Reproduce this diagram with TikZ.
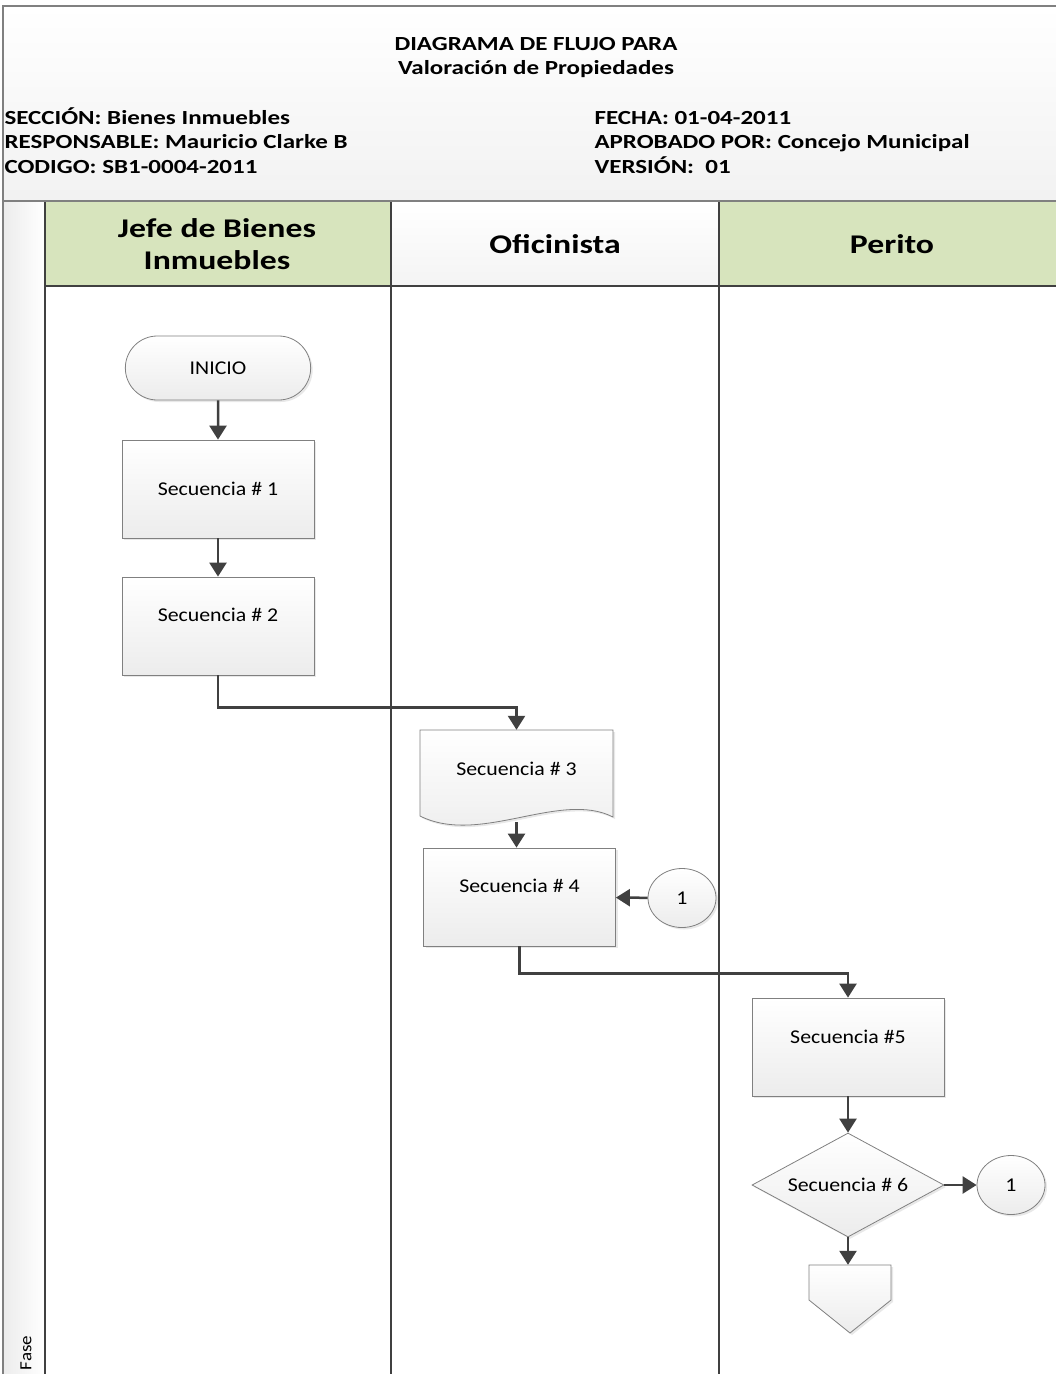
\documentclass[tikz,border=0pt]{standalone}
\usepackage{fontspec}
\setmainfont[FakeStretch=1.12]{Carlito}
\newfontfamily\ancha[FakeStretch=1.25]{Carlito}
\definecolor{linea}{RGB}{64,64,64}
\definecolor{borde}{RGB}{128,128,128}
\definecolor{verdecarril}{RGB}{215,228,189}
\definecolor{fondo}{RGB}{236,236,236}
\usetikzlibrary{shapes.misc,shapes.geometric,arrows.meta,shadows}

\newcommand\subir[2]{\raisebox{#1}[\height][\depth]{#2}}

\tikzset{
  paso/.style = {
    draw         = borde,
    line width   = 0.8pt,
    top color    = white,
    bottom color = fondo,
    drop shadow  = {shadow xshift=2pt, shadow yshift=-2pt, opacity=0.18},
    font         = \fontsize{19.5}{22}\selectfont
  },
  caja/.style = {
    paso,
    rectangle,
    minimum width  = 192pt,
    minimum height = 98pt
  },
  conector/.style = {
    paso,
    ellipse,
    inner sep      = 0pt,
    minimum width  = 68pt,
    minimum height = 59pt
  },
  flecha/.style = {
    draw       = linea,
    line width = 2.5pt,
    -{Triangle[width=17pt,length=14pt]}
  },
  divisor/.style = {
    draw       = linea,
    line width = 1.8pt
  },
  titulo/.style = {
    font = \ancha\fontsize{20}{24}\selectfont\bfseries
  },
  carriltexto/.style = {
    font = \ancha\fontsize{27}{32}\selectfont\bfseries
  }
}

\begin{document}
\begin{tikzpicture}[x=1pt, y=-1pt]
  \useasboundingbox (0,0) rectangle (1056,1374);
  \clip (0,0) rectangle (1056,1374);

  % encabezado
  \path[draw = borde, line width = 1.2pt, top color = white, bottom color = fondo!70]
    (3,6) rectangle (1070,201);
  \node[titulo, align = center] (cabecera) at (536,58)
    {DIAGRAMA DE FLUJO PARA\\Valoración de Propiedades};
  \node[titulo, anchor = north west, align = left] (datos) at (1,104)
    {SECCIÓN: Bienes Inmuebles\\[0.5pt]RESPONSABLE: Mauricio Clarke B\\[0.5pt]CODIGO: SB1-0004-2011};
  \node[titulo, anchor = north west, align = left] (firmas) at (591,104)
    {\vphantom{Ó}FECHA: 01-04-2011\\[0.5pt]APROBADO POR: Concejo Municipal\\[0.5pt]VERSIÓN:\ \ 01};

  % carriles
  \path[draw = borde, line width = 1.2pt, left color = fondo, right color = white] (3,201) rectangle (45,1380);
  \fill[verdecarril] (45,201) rectangle (391,286);
  \fill[top color = white, bottom color = fondo!60] (391,201) rectangle (719,286);
  \fill[verdecarril] (719,201) rectangle (1070,286);
  \draw[divisor] (45,201) -- (45,1380);
  \draw[divisor] (391,201) -- (391,1380);
  \draw[divisor] (719,201) -- (719,1380);
  \draw[divisor] (45,286) -- (1070,286);
  \draw[draw = borde, line width = 1.2pt] (3,201) -- (1070,201);

  \node[carriltexto, align = center] (jefe) at (217,244)
    {Jefe de Bienes\\Inmuebles};
  \node[carriltexto] (oficinista) at (555,244) {Oficinista};
  \node[carriltexto] (perito) at (892,244) {Perito};
  \node[rotate = 90, font = \fontsize{17}{20}\selectfont] (fase) at (26,1353) {Fase};

  % pasos
  \node[paso, rounded rectangle, minimum width = 192pt, minimum height = 64pt] (inicio) at (218,368) {INICIO};
  \node[caja] (sec1) at (218,489) {Secuencia \# 1};
  \node[caja] (sec2) at (218,626) {\subir{11pt}{Secuencia \# 2}};
  \path[paso] (420,730) -- (613,730) -- (613,817)
    .. controls (560,790) and (480,846) .. (420,816) -- cycle;
  \node[minimum width = 193pt, minimum height = 92pt, font = \fontsize{19.5}{22}\selectfont] (sec3) at (516.5,776)
    {\subir{7pt}{Secuencia \# 3}};
  \node[caja] (sec4) at (519.5,897) {\subir{11pt}{Secuencia \# 4}};
  \node[conector] (uno) at (682,898) {1};
  \node[caja] (sec5) at (848,1047) {\subir{10pt}{Secuencia \#5}};
  \node[paso, diamond, aspect = 1.85, inner sep = 0pt, minimum width = 192pt, minimum height = 104pt] (decision) at (848,1185)
    {Secuencia \# 6};
  \node[conector] (otrouno) at (1011,1185) {1};
  \path[paso] (809,1265) -- (891,1265) -- (891,1300) -- (850,1333) -- (809,1300) -- cycle;
  \node[minimum width = 82pt, minimum height = 68pt] (salida) at (850,1299) {};

  % flujo
  \draw[flecha] (inicio) -- (sec1);
  \draw[flecha] (sec1) -- (sec2);
  \draw[flecha] (sec2.south) -- ++(0,32) -| (sec3.north);
  \draw[flecha] (sec3.south) -- (sec3.south |- sec4.north);
  \draw[flecha] (uno) -- (sec4);
  \draw[flecha] (sec4.south) -- ++(0,27) -| (sec5.north);
  \draw[flecha] (sec5) -- (decision);
  \draw[flecha] (decision) -- (otrouno);
  \draw[flecha] (decision.south) -- (decision.south |- salida.north);
\end{tikzpicture}
\end{document}
